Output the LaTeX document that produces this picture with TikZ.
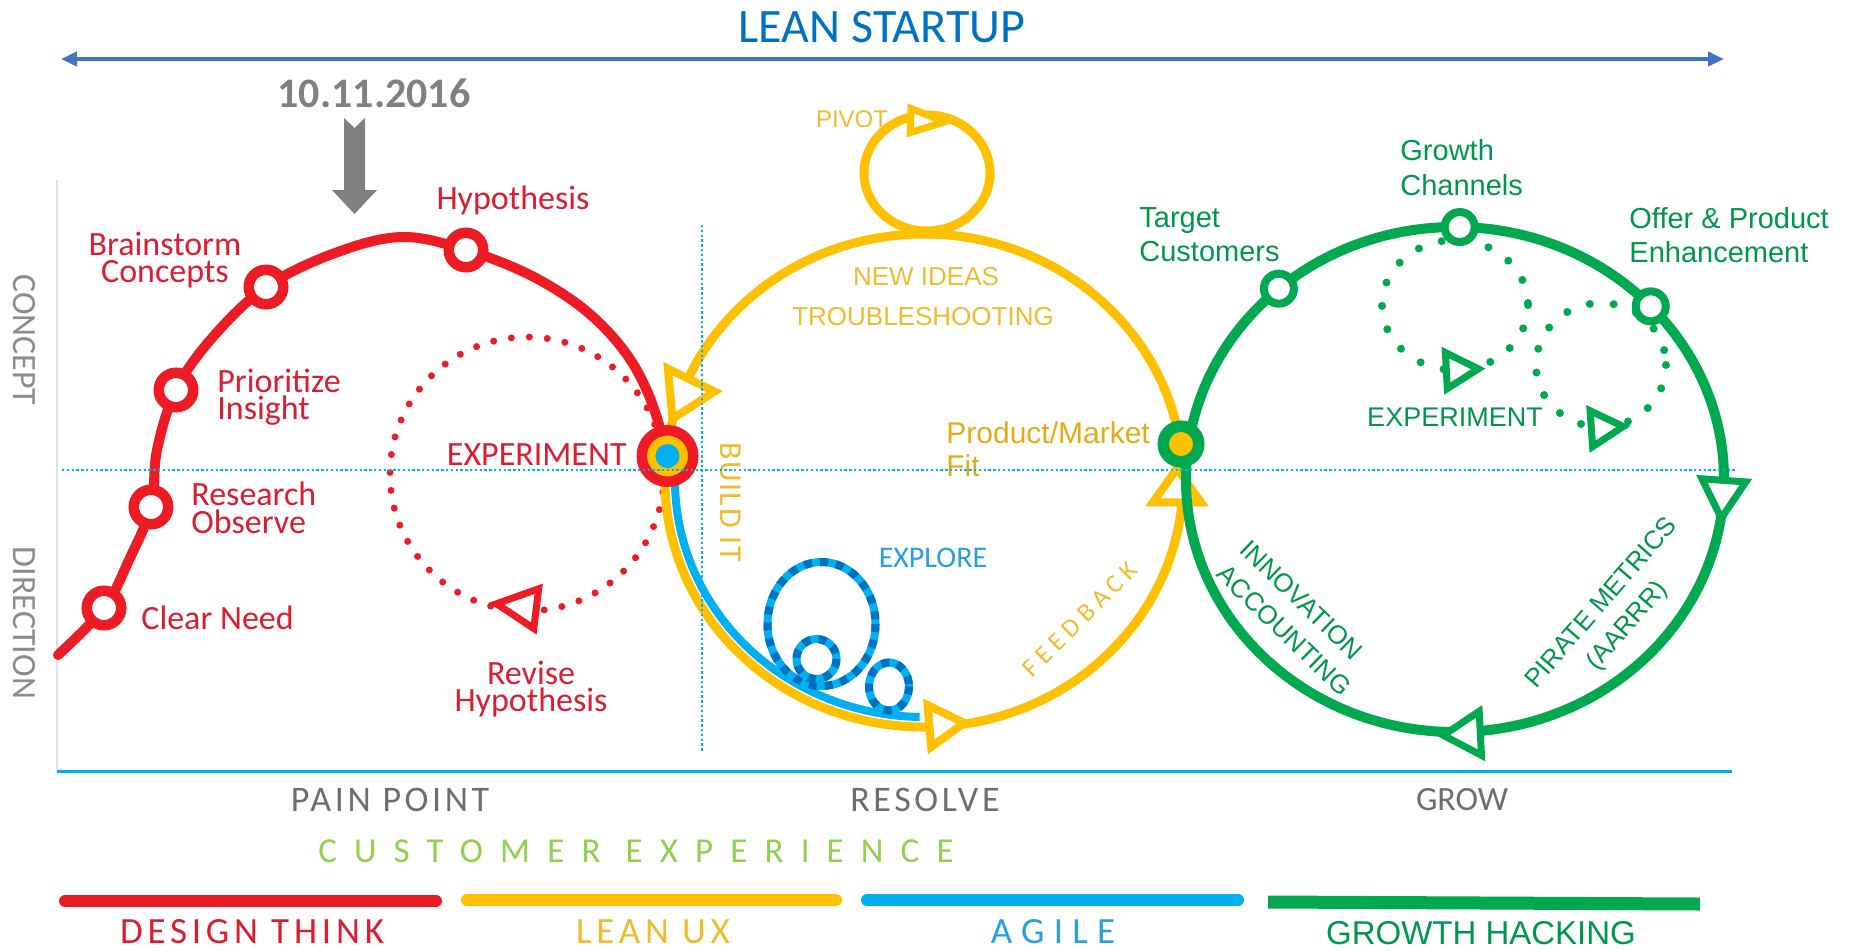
\documentclass[tikz,border=0pt]{standalone}
\usepackage{fontspec}
\setmainfont{Carlito}
\newfontfamily\arialf{Liberation Sans}
\usetikzlibrary{calc,arrows.meta}
\definecolor{cRed}{RGB}{237,28,36}
\definecolor{cRedT}{RGB}{218,30,50}
\definecolor{cYel}{RGB}{255,192,0}
\definecolor{cYelT}{RGB}{238,188,45}
\definecolor{cYelD}{RGB}{228,172,20}
\definecolor{cBlue}{RGB}{0,176,240}
\definecolor{cBlueD}{RGB}{0,112,192}
\definecolor{cBlueT}{RGB}{40,160,220}
\definecolor{cGrn}{RGB}{0,168,80}
\definecolor{cGrnT}{RGB}{0,150,75}
\definecolor{cLGrn}{RGB}{146,208,80}
\definecolor{cGray}{RGB}{110,110,110}
\definecolor{cDate}{RGB}{128,128,128}
\definecolor{cTitle}{RGB}{0,112,192}
\definecolor{cArrow}{RGB}{68,114,196}
\definecolor{cFrame}{RGB}{225,225,225}
\newcommand{\fsz}[2]{\fontsize{#1}{#2}\selectfont}
\newcommand{\otri}[7]{%
  \draw[#6, line width=#7, fill=white, line join=miter, rotate around={#3:(#1,#2)}]
    ({#1-#4/3},{#2-#5}) -- ({#1+2*#4/3},{#2}) -- ({#1-#4/3},{#2+#5}) -- cycle;}
\begin{document}
\begin{tikzpicture}[x=0.5pt,y=-0.5pt,
  redline/.style={draw=cRed, line width=5pt, line cap=round, line join=round},
  yelline/.style={draw=cYel, line width=4.5pt},
  grnline/.style={draw=cGrn, line width=5pt},
  bluline/.style={draw=cBlue, line width=4pt},
  bluedash/.style={draw=cBlueD, line width=4pt, dash pattern=on 4pt off 4pt},
  reddots/.style={draw=cRed, line width=3.5pt, line cap=round, dash pattern=on 0pt off 9pt},
  grndots/.style={draw=cGrn, line width=4pt, line cap=round, dash pattern=on 0pt off 12pt},
  guide/.style={draw=cBlue, line width=0.8pt, dash pattern=on 1.2pt off 1.2pt},
  rring/.style={circle, draw=cRed, line width=5.25pt, fill=white, minimum size=17.25pt, inner sep=0pt},
  gring/.style={circle, draw=cGrn, line width=4pt, fill=white, minimum size=15pt, inner sep=0pt},
  expnode/.style={circle, draw=cRed, line width=5.25pt, fill=cYel, minimum size=25.75pt, inner sep=0pt},
  pmfnode/.style={circle, draw=cGrn, line width=5.75pt, fill=cYel, minimum size=17.75pt, inner sep=0pt},
  redlbl/.style={text=cRedT, font=\fsz{17}{13.75}, inner sep=0pt},
  yellbl/.style={text=cYelT, font=\arialf\fsz{13}{16}, inner sep=0pt},
  grnlbl/.style={text=cGrnT, font=\arialf\fsz{14.5}{17}, inner sep=0pt},
  axislbl/.style={text=cGray!80, font=\fsz{17}{17}, inner sep=0pt, rotate=-90},
  phaselbl/.style={text=cGray, font=\fsz{18}{18}\addfontfeature{LetterSpace=10}, inner sep=0pt},
  methlbl/.style={font=\fsz{18.5}{20}\addfontfeature{LetterSpace=13}, inner sep=0pt},
  bar/.style={line width=6pt, line cap=round}
]
\useasboundingbox (0,0) rectangle (1854,950);
\fill[white] (0,0) rectangle (1854,950);

% ---------- title ----------
\node[text=cTitle, font=\fsz{24}{24}, inner sep=0pt] (title) at (882,27) {LEAN STARTUP};
\coordinate (ta) at (61,59);
\coordinate (tb) at (1724,59);
\draw[cArrow, line width=2pt, {Triangle[length=8pt,width=7pt]}-{Triangle[length=8pt,width=7pt]}] (ta) -- (tb);

% ---------- date ----------
\node[text=cDate, font=\bfseries\fsz{21}{21}, inner sep=0pt] (date) at (374,93) {10.11.2016};
\fill[cDate] (344,118) -- (354.5,128) -- (365,118) -- (365,190) -- (377,190) -- (354.5,214) -- (332,190) -- (344,190) -- cycle;

% ---------- frame ----------
\draw[cFrame, line width=0.75pt] (57,180) -- (57,771);
\draw[cBlue, line width=1.5pt] (57,771) -- (1732,771);
\node[axislbl] (concept) at (24,340) {CONCEPT};
\node[axislbl] (direction) at (24,623) {DIRECTION};

% ---------- red (design think) ----------
\draw[redline] plot[smooth, tension=0.6] coordinates {(58,655) (104,608) (129,560) (151,507) (157,450) (176,390) (212,338) (266,287) (335,253) (402,237) (466,250) (530,275) (585,310) (625,352) (650,398) (668,456)};
\draw[reddots] (527,474) circle[radius=137];
\otri{523}{607}{173}{40}{20}{draw=cRed}{3.5pt}

% ---------- yellow (lean ux) ----------
\coordinate (yc) at (924,480.5);
\draw[yelline] (yc) ellipse[x radius=259, y radius=246.5];
\draw[yelline] (927,173) ellipse[x radius=63, y radius=58];
\draw[bluline] ($(yc)+(186:249 and 236.5)$) arc[start angle=186, end angle=91, x radius=249, y radius=236.5];
% explore loops
\draw[bluline] (821.5,624) ellipse[x radius=54, y radius=62];
\draw[bluedash] (821.5,624) ellipse[x radius=54, y radius=62];
\draw[bluline] (816.5,659) ellipse[x radius=20, y radius=20];
\draw[bluedash] (816.5,659) ellipse[x radius=20, y radius=20];
\draw[bluline] (889,686.5) ellipse[x radius=20, y radius=24];
\draw[bluedash] (889,686.5) ellipse[x radius=20, y radius=24];
% yellow arrows
\otri{685}{393}{-116}{43}{26}{draw=cYel}{4pt}
\otri{941}{725}{5}{35}{21}{draw=cYel}{4pt}
\otri{1177}{491}{90}{34}{24}{draw=cYel}{4pt}
\otri{922}{121}{-2}{34}{12}{draw=cYel}{3.5pt}

% ---------- green (growth hacking) ----------
\coordinate (gcen) at (1455,479.5);
\draw[grnline] (gcen) ellipse[x radius=269, y radius=252.5];
\draw[grndots] (1455,305) ellipse[x radius=73, y radius=65];
\draw[grndots] (1601,365) ellipse[x radius=65, y radius=62];
\otri{1457}{370}{3}{32}{18}{draw=cGrn}{3.5pt}
\otri{1602}{428}{4}{32}{18}{draw=cGrn}{3.5pt}
\otri{1723}{493}{-94}{38}{22}{draw=cGrn}{3.5pt}
\otri{1468}{734}{183}{37}{22}{draw=cGrn}{3.5pt}

% ---------- nodes ----------
\node[rring] (clear) at (104,608) {};
\node[rring] (rese) at (151,507) {};
\node[rring] (prio) at (176,390) {};
\node[rring] (brain) at (266,287) {};
\node[rring] (hyp) at (466,250) {};
\node[expnode] (exp) at (667.5,456) {};
\fill[cBlue] (exp) circle[radius=12];
\node[pmfnode] (pmf) at (1181,444) {};
\node[gring] (tc) at ($(gcen)+(229.1:269 and 252.5)$) {};
\node[gring] (gc) at ($(gcen)+(271:269 and 252.5)$) {};
\node[gring] (oc) at ($(gcen)+(316.7:269 and 252.5)$) {};

% ---------- red labels ----------
\node[redlbl] (lhyp) at (513,200) {Hypothesis};
\node[redlbl, align=center] (lbrain) at (165,260) {Brainstorm\\Concepts};
\node[redlbl, align=left, anchor=west] (lprio) at (217,397) {Prioritize\\Insight};
\node[redlbl, align=left, anchor=west] (lrese) at (191,508) {Research\\Observe};
\node[redlbl, anchor=west] (lclear) at (141,618) {Clear Need};
\node[redlbl, anchor=east] (lexp) at (627,455) {EXPERIMENT};
\node[redlbl, align=center] (lrev) at (531,689) {Revise\\Hypothesis};

% ---------- yellow labels ----------
\node[yellbl, font=\arialf\fsz{12}{12}] (lpivot) at (852,119) {PIVOT};
\node[yellbl] (lnew) at (926,277) {NEW IDEAS};
\node[yellbl] (ltrou) at (923,317) {TROUBLESHOOTING};
\node[yellbl, font=\fsz{16}{16}\addfontfeature{LetterSpace=5}, rotate=-90] (lbuild) at (731,502) {BUILD IT};
\node[yellbl, font=\fsz{13}{13}\addfontfeature{LetterSpace=23}, rotate=45] (lfeed) at (1080,619) {FEEDBACK};
\node[yellbl, text=cYelD, font=\arialf\fsz{15}{16.5}, align=left, anchor=west] (lpmf) at (946,449) {Product/Market\\Fit};
\node[text=cBlueT, font=\fsz{15}{15}, inner sep=0pt] (lexplore) at (933,558) {EXPLORE};

% ---------- green labels ----------
\node[grnlbl, align=left, anchor=west] (ltc) at (1139,235) {Target\\Customers};
\node[grnlbl, align=left, anchor=west, font=\arialf\fsz{14.5}{17.5}] (lgc) at (1400,168) {Growth\\Channels};
\node[grnlbl, align=left, anchor=west] (loc) at (1629,235) {Offer \& Product\\Enhancement};
\node[grnlbl, font=\arialf\fsz{13.5}{13.5}] (lgexp) at (1455,417) {EXPERIMENT};
\node[grnlbl, font=\arialf\fsz{13}{17}, align=left, rotate=-44] (linno) at (1296,618) {INNOVATION\\ACCOUNTING};
\node[grnlbl, font=\arialf\fsz{13}{17}, align=center, rotate=49] (lpir) at (1615,615) {PIRATE METRICS\\(AARRR)};

% ---------- phases ----------
\node[phaselbl] (lpain) at (390,800) {PAIN POINT};
\node[phaselbl] (lres) at (925,800) {RESOLVE};
\node[phaselbl, font=\fsz{17}{17}] (lgrow) at (1462,800) {GROW};
\node[text=cLGrn, font=\fsz{17.5}{17.5}\addfontfeature{LetterSpace=49}, inner sep=0pt] (lcx) at (636,851) {CUSTOMER EXPERIENCE};

% ---------- method bars ----------
\draw[bar, cRed] (65,901) -- (436,901);
\draw[bar, cYel] (467,900) -- (836,900);
\draw[bar, cBlue] (867,900) -- (1238,900);
\draw[cGrn, line width=6.5pt] (1268,902) -- (1700,904);
\node[methlbl, text=cRedT] (ldt) at (252,932) {DESIGN THINK};
\node[methlbl, text=cYelT] (llux) at (653,932) {LEAN UX};
\node[methlbl, text=cBlueT, font=\fsz{18.5}{20}\addfontfeature{LetterSpace=25}] (lagile) at (1053,932) {AGILE};
\node[methlbl, text=cGrnT, font=\arialf\fsz{16.5}{18}] (lgh) at (1481,933) {GROWTH HACKING};

% ---------- guides (on top) ----------
\draw[guide] (62,470) -- (1735,470);
\draw[guide] (702,225) -- (702,751);
\end{tikzpicture}
\end{document}
